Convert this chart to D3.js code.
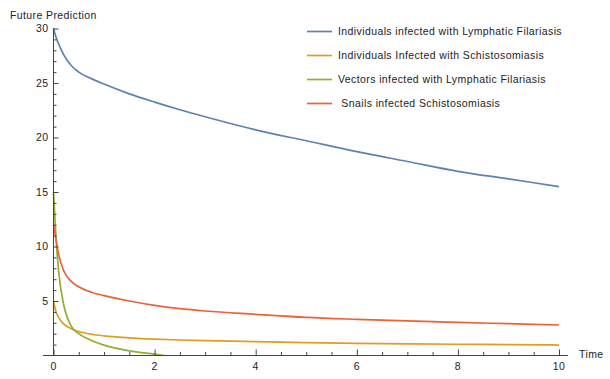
<!DOCTYPE html>
<html>
<head>
<meta charset="utf-8">
<script src="https://cdn.jsdelivr.net/npm/d3@7"></script>
<style>
    body { margin: 0; background: #fff; }
    text { font-family: "Liberation Sans", Arial, sans-serif; font-size: 10.5px; letter-spacing: 0.4px; fill: #222; }
</style>
</head>
<body>
<div id="chart"></div>
<script>
// time points (the green series reaches zero earlier, so it has its own)
const time = [0, 0.05, 0.1, 0.2, 0.35, 0.5, 0.75, 1, 1.5, 2, 2.5, 3, 4, 5, 6, 7, 8, 9, 10]
const vectorTime = [0, 0.05, 0.1, 0.2, 0.35, 0.5, 0.75, 1, 1.5, 2, 2.2]

const humansLF = [30, 29.2, 28.6, 27.6, 26.6, 26.0, 25.4, 24.9, 24.0, 23.25, 22.55, 21.9, 20.7, 19.7, 18.7, 17.8, 16.9, 16.2, 15.5]
const humansSchisto = [5, 4.0, 3.5, 2.9, 2.45, 2.2, 1.95, 1.8, 1.62, 1.5, 1.42, 1.36, 1.27, 1.19, 1.12, 1.07, 1.03, 1.0, 0.96]
const vectorsLF = [15, 10.8, 7.8, 4.7, 2.7, 2.0, 1.38, 0.95, 0.42, 0.12, 0]
const snailsSchisto = [12, 10.6, 9.3, 7.8, 6.8, 6.3, 5.8, 5.5, 5.0, 4.6, 4.3, 4.08, 3.78, 3.5, 3.32, 3.17, 3.04, 2.92, 2.8]

const seriesNames = [
    'Individuals infected with Lymphatic Filariasis',
    'Individuals Infected with Schistosomiasis',
    'Vectors infected with Lymphatic Filariasis',
    ' Snails infected Schistosomiasis'
]
const colors = ['#5e81b5', '#e19c24', '#8fb032', '#eb6235']

const xMajorTicks = [0, 2, 4, 6, 8, 10]
const yMajorTicks = [5, 10, 15, 20, 25, 30]

const width = 610
const height = 379

const svg = d3.select('#chart')
    .append('svg')
        .attr('width', width)
        .attr('height', height)

const xScale = d3.scaleLinear().domain([0, 10]).range([53.5, 559])
const yScale = d3.scaleLinear().domain([0, 30]).range([355.5, 28.5])

const series = [
    {x: time, y: humansLF},
    {x: time, y: humansSchisto},
    {x: vectorTime, y: vectorsLF},
    {x: time, y: snailsSchisto}
]

const valueline = d3.line()
    .x((d) => xScale(d[0]))
    .y((d) => yScale(d[1]))
    .curve(d3.curveMonotoneX)

// Draw the lines
series.forEach((s, i) => {
    svg.append('path')
        .attr('d', valueline(s.x.map((t, j) => [t, s.y[j]])))
        .attr('fill', 'none')
        .attr('stroke', colors[i])
        .attr('stroke-width', 1.7)
        .attr('stroke-linejoin', 'round')
})

// Axes (Mathematica style: ticks inside the frame)
const axisColor = '#444'

const xAxis = d3.axisTop(xScale)
    .tickValues(d3.range(0.5, 10.01, 0.5).filter((t) => t % 2 !== 0))
    .tickSize(3.5)
    .tickFormat('')
svg.append('g')
    .attr('transform', 'translate(0,' + yScale(0) + ')')
    .call(xAxis)
    .call((g) => g.select('.domain').remove())
    .call((g) => g.selectAll('line').attr('stroke', axisColor))

const xAxisMajor = d3.axisTop(xScale)
    .tickValues(xMajorTicks)
    .tickSize(6)
    .tickFormat('')
svg.append('g')
    .attr('transform', 'translate(0,' + yScale(0) + ')')
    .call(xAxisMajor)
    .call((g) => g.select('.domain').remove())
    .call((g) => g.selectAll('line').attr('stroke', axisColor))

svg.append('g')
    .selectAll('text')
    .data(xMajorTicks)
    .join('text')
        .attr('x', (d) => xScale(d))
        .attr('y', yScale(0) + 14)
        .attr('text-anchor', 'middle')
        .text((d) => d)

const yAxis = d3.axisRight(yScale)
    .tickValues(d3.range(1, 30).filter((v) => v % 5 !== 0))
    .tickSize(3)
    .tickFormat('')
svg.append('g')
    .attr('transform', 'translate(' + xScale(0) + ',0)')
    .call(yAxis)
    .call((g) => g.select('.domain').remove())
    .call((g) => g.selectAll('line').attr('stroke', axisColor))

const yAxisMajor = d3.axisRight(yScale)
    .tickValues(yMajorTicks)
    .tickSize(5)
    .tickFormat('')
svg.append('g')
    .attr('transform', 'translate(' + xScale(0) + ',0)')
    .call(yAxisMajor)
    .call((g) => g.select('.domain').remove())
    .call((g) => g.selectAll('line').attr('stroke', axisColor))

svg.append('g')
    .selectAll('text')
    .data(yMajorTicks)
    .join('text')
        .attr('x', xScale(0) - 5)
        .attr('y', (d) => yScale(d) + 3.5)
        .attr('text-anchor', 'end')
        .text((d) => d)

// axis lines
svg.append('line')
    .attr('x1', 43).attr('x2', 568)
    .attr('y1', yScale(0)).attr('y2', yScale(0))
    .attr('stroke', axisColor)
svg.append('line')
    .attr('x1', xScale(0)).attr('x2', xScale(0))
    .attr('y1', yScale(0)).attr('y2', yScale(30) - 0.5)
    .attr('stroke', axisColor)

// axis labels
svg.append('text')
    .attr('x', 10)
    .attr('y', 19)
    .text('Future Prediction')
svg.append('text')
    .attr('x', 579)
    .attr('y', 358)
    .text('Time')

// Legend
const legend = svg.append('g')
    .attr('transform', 'translate(307,31.5)')
seriesNames.forEach((name, i) => {
    const row = legend.append('g')
        .attr('transform', 'translate(0,' + (i * 24) + ')')
    row.append('line')
        .attr('x1', 0).attr('x2', 25)
        .attr('stroke', colors[i])
        .attr('stroke-width', 1.7)
    row.append('text')
        .attr('x', 31)
        .attr('y', 3.5)
        .style('white-space', 'pre')
        .text(name)
})
</script>
</body>
</html>
